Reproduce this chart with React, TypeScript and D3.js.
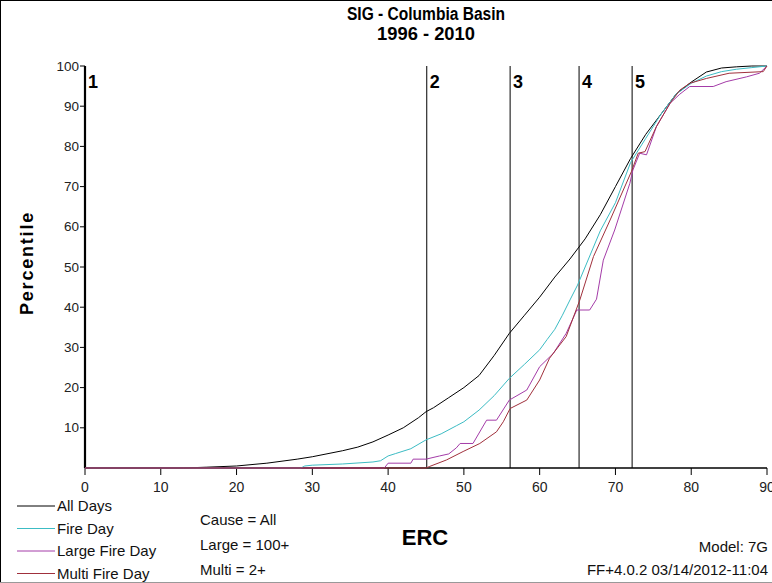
import React from "react";
import * as d3 from "d3";

type Pt = [number, number];

const title1 = "SIG - Columbia Basin";
const title2 = "1996 - 2010";
const xTicks = [0, 10, 20, 30, 40, 50, 60, 70, 80, 90];
const yTicks = [10, 20, 30, 40, 50, 60, 70, 80, 90, 100];
const breakErc = [0, 45.1, 56.1, 65.2, 72.2];
const breakLabels = ["1", "2", "3", "4", "5"];

const allDays: Pt[] = [
  [0, 0], [13, 0], [16, 0.2], [20, 0.5], [24, 1.2], [28, 2.2], [30, 2.8], [34, 4.3], [36, 5.2],
  [38, 6.5], [40, 8.2], [42, 10], [44, 12.5], [45, 14], [46, 15], [48, 17.5], [50, 20], [52, 23],
  [54, 28], [56, 33.5], [58, 38], [60, 42.5], [62, 47.5], [64, 52], [66, 57], [68, 63], [70, 70],
  [72, 77], [74, 83], [76, 88], [78, 93], [80, 96], [82, 98.5], [84, 99.5], [86, 99.8], [88, 100], [90, 100],
];
const fireDay: Pt[] = [
  [0, 0], [28.5, 0], [29, 0.5], [30, 0.7], [34, 1.0], [38, 1.5], [39, 1.8], [40, 3.0], [41, 3.6],
  [43, 4.8], [45, 7], [47, 8.5], [49, 10.5], [50, 11.5], [52, 14.4], [54, 18], [56, 22.3], [58, 25.8],
  [60, 29.4], [61, 32], [62, 34.5], [63, 38], [64, 41.8], [65, 45.5], [66, 50], [67, 54.5], [68, 59],
  [70, 66], [72, 76], [74, 82], [76, 88], [78, 93], [80, 95.7], [82, 97.5], [84, 98.6], [86, 99.2],
  [88, 99.6], [90, 100],
];
const largeFireDay: Pt[] = [
  [0, 0], [39.5, 0], [40, 1.2], [43, 1.2], [43.3, 2.2], [45, 2.2], [46.8, 3], [48, 3.5], [49, 5],
  [49.5, 6.1], [51.2, 6.1], [53, 11.9], [54.3, 11.9], [56, 16.9], [58.3, 19.4], [60, 25.2],
  [61.8, 28.5], [63.5, 33.5], [64.9, 39.3], [66.6, 39.3], [67.5, 42], [68.4, 51.7], [69.9, 59.2],
  [71.9, 70.8], [72.3, 74.1], [73.2, 78.3], [74.1, 77.9], [75.4, 84.9], [77.2, 90.7], [78.5, 93],
  [79.8, 94.9], [82.9, 94.9], [84.6, 96.1], [87.3, 97.3], [89, 98.2], [90, 100],
];
const multiFireDay: Pt[] = [
  [0, 0], [45, 0], [45.5, 0.4], [47.7, 2], [49.9, 4.1], [52.1, 6.1], [54.3, 9], [55.2, 11.5],
  [56.1, 14.8], [58.3, 16.9], [60, 21.9], [61.3, 27.3], [63.5, 32.7], [65.3, 41.8], [67.1, 52.6],
  [69.3, 61.7], [72.1, 73.7], [73, 78.3], [73.9, 78.7], [75.4, 84.9], [77.2, 90.7], [78.5, 94],
  [79.8, 95.7], [82, 96.9], [85, 98.2], [89.5, 98.6], [90, 100],
];

const seriesNames = ["All Days", "Fire Day", "Large Fire Day", "Multi Fire Day"];
const seriesData = [allDays, fireDay, largeFireDay, multiFireDay];
const seriesColors = ["#000000", "#3cbcc4", "#a43ca8", "#a0303c"];
const notes = ["Cause = All", "Large = 100+", "Multi = 2+"];
const footRight = ["Model: 7G", "FF+4.0.2 03/14/2012-11:04"];

const W = 772;
const H = 583;
const font = "'Liberation Sans', Arial, sans-serif";

export default function App() {
  const x = d3.scaleLinear().domain([0, 90]).range([85, 767]);
  const y = d3.scaleLinear().domain([0, 100]).range([468, 66]);
  const line = d3
    .line<Pt>()
    .x((d) => x(d[0]))
    .y((d) => y(d[1]));

  return (
    <svg
      width={W}
      height={H}
      style={{ position: "absolute", left: 0, top: 0, background: "#fff" }}
      fontFamily={font}
    >
      <rect x={0} y={0} width={W} height={H} fill="#fff" />
      <line x1={0.5} x2={0.5} y1={0} y2={H} stroke="#000" strokeWidth={1} />
      <line x1={0} x2={W} y1={0.5} y2={0.5} stroke="#000" strokeWidth={1} />
      <line x1={0} x2={W} y1={H - 0.5} y2={H - 0.5} stroke="#999" strokeWidth={1} />
      {/* Title */}
      <text x={426} y={20} textAnchor="middle" fontSize={18} fontWeight="bold" textLength={158} lengthAdjust="spacingAndGlyphs">
        {title1}
      </text>
      <text x={426} y={40} textAnchor="middle" fontSize={18} fontWeight="bold" textLength={98} lengthAdjust="spacingAndGlyphs">
        {title2}
      </text>

      {/* Y label */}
      <text
        transform={`translate(33,263) rotate(-90)`}
        textAnchor="middle"
        fontSize={18}
        fontWeight="bold"
        letterSpacing={1.8}
      >
        Percentile
      </text>

      {/* Y axis */}
      <line x1={85} x2={85} y1={y(100)} y2={y(0)} stroke="#000" strokeWidth={2.2} />
      {yTicks.map((t) => (
        <g key={"y" + t}>
          <line x1={80} x2={85} y1={y(t)} y2={y(t)} stroke="#000" strokeWidth={1} />
          <text x={79} y={y(t) + 4.5} textAnchor="end" fontSize={13.5} fill="#222">
            {t}
          </text>
        </g>
      ))}

      {/* X axis */}
      <line x1={x(0)} x2={x(90)} y1={y(0)} y2={y(0)} stroke="#000" strokeWidth={1.6} />
      {xTicks.map((t) => (
        <g key={"x" + t}>
          <line x1={x(t)} x2={x(t)} y1={y(0)} y2={y(0) + 7} stroke="#000" strokeWidth={1} />
          <text x={x(t)} y={y(0) + 24} textAnchor="middle" fontSize={14} fill="#222">
            {t}
          </text>
        </g>
      ))}

      {/* Break lines */}
      {breakErc.map((b, i) => (
        <g key={"b" + i}>
          {i > 0 && <line x1={x(b)} x2={x(b)} y1={y(100)} y2={y(0)} stroke="#000" strokeWidth={1} />}
          <text x={x(b) + 3} y={88} fontSize={18} fontWeight="bold" textLength={10} lengthAdjust="spacingAndGlyphs">
            {breakLabels[i]}
          </text>
        </g>
      ))}

      {/* Series */}
      {seriesData.map((s, i) => (
        <path key={"s" + i} d={line(s) || ""} fill="none" stroke={seriesColors[i]} strokeWidth={1} />
      ))}

      {/* Legend */}
      {seriesNames.map((n, i) => {
        const ly = 506 + i * 22.5;
        return (
          <g key={"l" + i}>
            <line x1={17} x2={55} y1={ly} y2={ly} stroke={seriesColors[i]} strokeWidth={1} />
            <text x={57} y={ly + 5} fontSize={15} fill="#111">
              {n}
            </text>
          </g>
        );
      })}

      {notes.map((n, i) => (
        <text key={"n" + i} x={200} y={525 + i * 25} fontSize={15} fill="#111">
          {n}
        </text>
      ))}

      <text x={425} y={545} textAnchor="middle" fontSize={22} fontWeight="bold">
        ERC
      </text>

      {footRight.map((t, i) => (
        <text key={"f" + i} x={768} y={552 + i * 23} textAnchor="end" fontSize={15} fill="#111">
          {t}
        </text>
      ))}
    </svg>
  );
}
